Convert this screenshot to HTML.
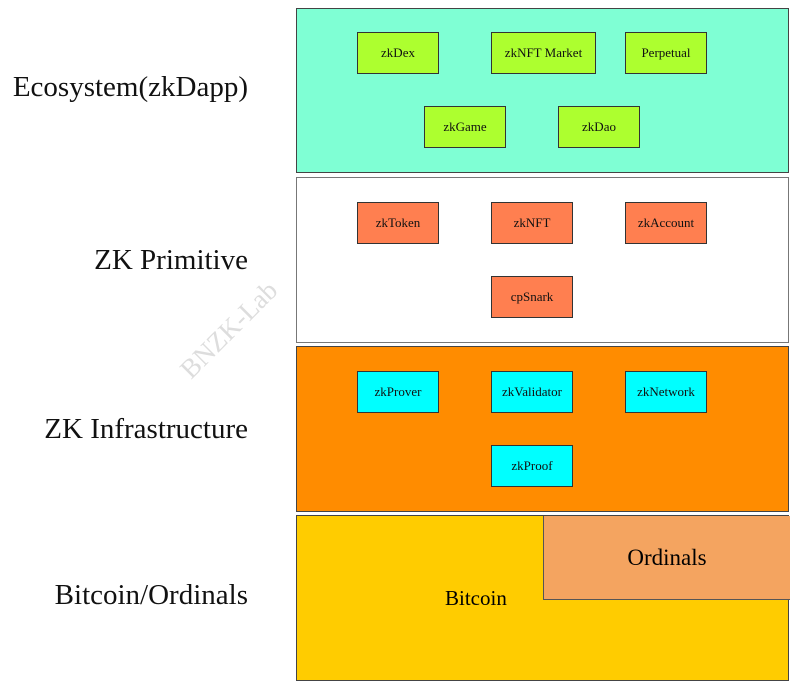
<!DOCTYPE html>
<html><head><style>
body{margin:0;width:800px;height:691px;background:#fff;position:relative;overflow:hidden;font-family:"Liberation Serif",serif;}
.p{position:absolute;left:296px;width:493px;border:1px solid #444;box-sizing:border-box;}
.b{position:absolute;height:42px;border:1px solid #333;box-sizing:border-box;font-size:13px;display:flex;align-items:center;justify-content:center;color:#111;}
.g{background:#adff2f;}.o{background:#ff7f50;}.c{background:#00ffff;}
.l{position:absolute;right:552px;font-size:29px;color:#111;white-space:nowrap;}
</style></head><body>
<div class="p" style="top:8px;height:165px;background:#7fffd4"></div>
<div class="p" style="top:177px;height:166px;background:#fff;border-color:#777"></div>
<div class="p" style="top:346px;height:166px;background:#ff8c00"></div>
<div class="p" style="top:515px;height:166px;background:#ffcc00"></div>
<div style="position:absolute;left:543px;top:516px;width:246px;height:83px;background:#f4a460;border-left:1px solid #555;border-bottom:1px solid #555;display:flex;align-items:center;justify-content:center;font-size:23px">Ordinals</div>
<div style="position:absolute;left:445px;top:586px;font-size:21px">Bitcoin</div>

<div class="b g" style="left:357px;top:32px;width:82px">zkDex</div>
<div class="b g" style="left:491px;top:32px;width:105px">zkNFT Market</div>
<div class="b g" style="left:625px;top:32px;width:82px">Perpetual</div>
<div class="b g" style="left:424px;top:106px;width:82px">zkGame</div>
<div class="b g" style="left:558px;top:106px;width:82px">zkDao</div>

<div class="b o" style="left:357px;top:202px;width:82px">zkToken</div>
<div class="b o" style="left:491px;top:202px;width:82px">zkNFT</div>
<div class="b o" style="left:625px;top:202px;width:82px">zkAccount</div>
<div class="b o" style="left:491px;top:276px;width:82px">cpSnark</div>

<div class="b c" style="left:357px;top:371px;width:82px">zkProver</div>
<div class="b c" style="left:491px;top:371px;width:82px">zkValidator</div>
<div class="b c" style="left:625px;top:371px;width:82px">zkNetwork</div>
<div class="b c" style="left:491px;top:445px;width:82px">zkProof</div>

<div class="l" style="top:71px">Ecosystem(zkDapp)</div>
<div class="l" style="top:244px">ZK Primitive</div>
<div class="l" style="top:413px">ZK Infrastructure</div>
<div class="l" style="top:579px">Bitcoin/Ordinals</div>

<div style="position:absolute;left:229px;top:330px;transform:translate(-50%,-50%) rotate(-45deg);font-size:27px;color:#ddd;white-space:nowrap">BNZK-Lab</div>
</body></html>
